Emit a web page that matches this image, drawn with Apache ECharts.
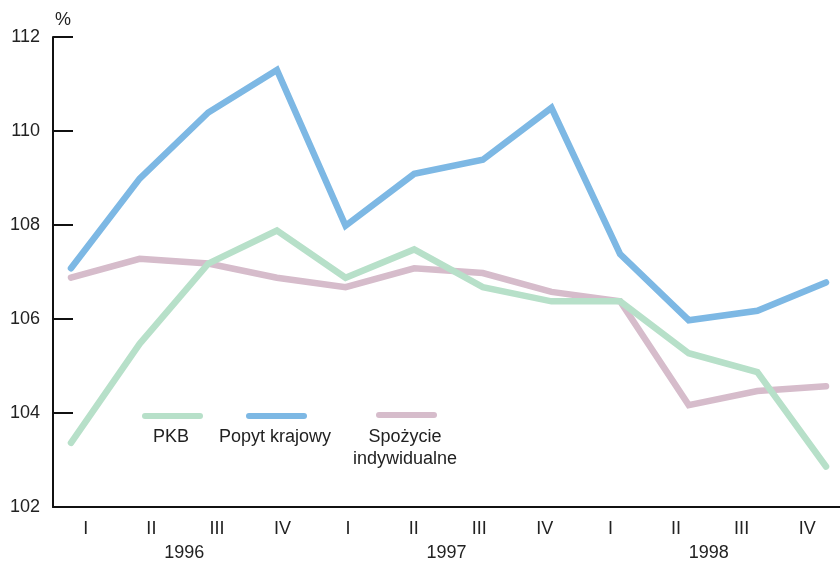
<!DOCTYPE html>
<html>
<head>
<meta charset="utf-8">
<script src="https://cdn.jsdelivr.net/npm/echarts@6/dist/echarts.min.js"></script>
<style>
  html, body { margin: 0; padding: 0; background: #fff; }
  #chart { width: 840px; height: 562px; }
</style>
</head>
<body>
<div id="chart"></div>
<script>
// kwartały i lata
var quarters = ['I', 'II', 'III', 'IV', 'I', 'II', 'III', 'IV', 'I', 'II', 'III', 'IV'];
var years = ['1996', '1997', '1998'];

// dynamika, okres poprzedni = 100
var pkb = [103.4, 105.5, 107.2, 107.9, 106.9, 107.5, 106.7, 106.4, 106.4, 105.3, 104.9, 102.9];
var popytKrajowy = [107.1, 109.0, 110.4, 111.3, 108.0, 109.1, 109.4, 110.5, 107.4, 106.0, 106.2, 106.8];
var spozycie = [106.9, 107.3, 107.2, 106.9, 106.7, 107.1, 107.0, 106.6, 106.4, 104.2, 104.5, 104.6];

var colorPkb = '#b7e0c9';
var colorPopyt = '#7db8e4';
var colorSpoz = '#d6bccb';
var textColor = '#222';
var fontFamily = 'Liberation Sans, Arial, sans-serif';

var myChart = echarts.init(document.getElementById('chart'));

function lineSeries(name, data, color, z) {
  return {
    name: name,
    type: 'line',
    xAxisIndex: 2,
    yAxisIndex: 1,
    data: data,
    symbol: 'none',
    z: z,
    animation: false,
    lineStyle: { color: color, width: 6.5, cap: 'round', join: 'miter' }
  };
}

var option = {
  backgroundColor: '#fff',
  textStyle: { fontFamily: fontFamily },
  grid: [
    { left: 53, width: 792, top: 37, bottom: 53 },
    { left: 71, right: 14, top: 37, bottom: 53 }
  ],
  xAxis: [
    {
      type: 'category',
      gridIndex: 0,
      data: quarters,
      boundaryGap: true,
      axisLine: { lineStyle: { color: '#111', width: 2 } },
      axisTick: { inside: true, length: 11, lineStyle: { color: '#111', width: 2 } },
      axisLabel: { color: textColor, fontSize: 18, margin: 13, fontFamily: fontFamily },
      splitLine: { show: false }
    },
    {
      type: 'category',
      gridIndex: 0,
      data: years,
      position: 'bottom',
      offset: 24,
      boundaryGap: true,
      axisLine: { show: false },
      axisTick: { show: false },
      axisLabel: { color: textColor, fontSize: 18, margin: 13, fontFamily: fontFamily },
      splitLine: { show: false }
    },
    {
      type: 'category',
      gridIndex: 1,
      data: quarters,
      boundaryGap: false,
      show: false
    }
  ],
  yAxis: [
    {
      type: 'value',
      gridIndex: 0,
      min: 102,
      max: 112,
      interval: 2,
      name: '%',
      nameLocation: 'end',
      nameGap: 8,
      nameTextStyle: { color: textColor, fontSize: 18, align: 'left', padding: [0, 0, 0, 2], fontFamily: fontFamily },
      axisLine: { show: true, lineStyle: { color: '#111', width: 2 } },
      axisTick: { show: true, inside: true, length: 20, lineStyle: { color: '#111', width: 2 } },
      axisLabel: { color: textColor, fontSize: 18, margin: 13, fontFamily: fontFamily },
      splitLine: { show: false }
    },
    {
      type: 'value',
      gridIndex: 1,
      min: 102,
      max: 112,
      interval: 2,
      show: false,
      splitLine: { show: false }
    }
  ],
  graphic: [
    { type: 'line', shape: { x1: 145, y1: 416, x2: 200, y2: 416 }, style: { stroke: colorPkb, lineWidth: 6, lineCap: 'round' } },
    { type: 'text', x: 171, y: 437, style: { text: 'PKB', fill: textColor, fontSize: 18, fontFamily: fontFamily, align: 'center', verticalAlign: 'middle' } },
    { type: 'line', shape: { x1: 249, y1: 416, x2: 304, y2: 416 }, style: { stroke: colorPopyt, lineWidth: 6, lineCap: 'round' } },
    { type: 'text', x: 275, y: 437, style: { text: 'Popyt krajowy', fill: textColor, fontSize: 18, fontFamily: fontFamily, align: 'center', verticalAlign: 'middle' } },
    { type: 'line', shape: { x1: 379, y1: 415, x2: 434, y2: 415 }, style: { stroke: colorSpoz, lineWidth: 6, lineCap: 'round' } },
    { type: 'text', x: 405, y: 448, style: { text: 'Spożycie\nindywidualne', fill: textColor, fontSize: 18, lineHeight: 22, fontFamily: fontFamily, align: 'center', verticalAlign: 'middle' } }
  ],
  series: [
    lineSeries('Spożycie indywidualne', spozycie, colorSpoz, 2),
    lineSeries('PKB', pkb, colorPkb, 3),
    lineSeries('Popyt krajowy', popytKrajowy, colorPopyt, 4)
  ]
};

myChart.setOption(option);
</script>
</body>
</html>
